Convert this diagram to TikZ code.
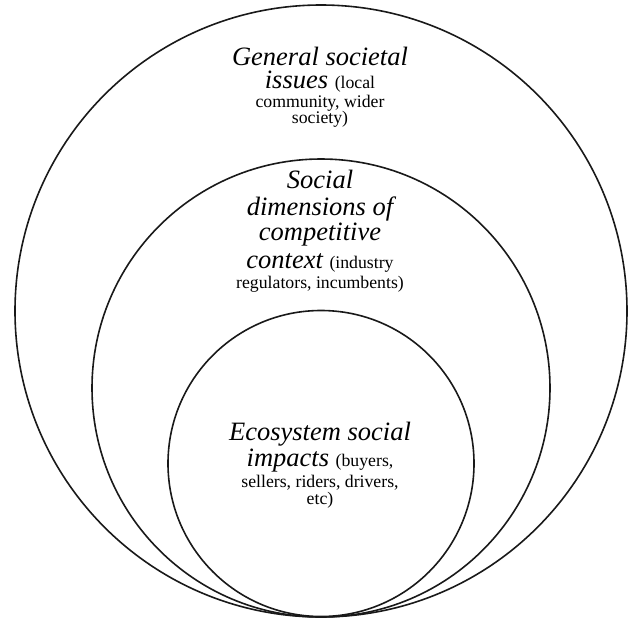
\documentclass[tikz,border=0pt]{standalone}
\usepackage{fontspec}
\setmainfont{Liberation Serif}
\newcommand{\bigit}{\fontsize{26.5}{26.5}\selectfont\itshape}
\newcommand{\smallrm}{\fontsize{17.75}{17.75}\selectfont\upshape}
\tikzset{
  ring/.style={draw=black!90,line width=1.6pt},
  lbl/.style={anchor=base,inner sep=0pt}
}
\begin{document}
\begin{tikzpicture}[x=1pt,y=-1pt]
            \useasboundingbox (0,0) rectangle (630,619);
            % three rings touching at the bottom
            \coordinate (outerc) at (321,311);
            \coordinate (midc) at (321,388);
            \coordinate (innerc) at (321,463.5);
            \draw[ring] (outerc) circle (306pt);
            \draw[ring] (midc) circle (229pt);
            \draw[ring] (innerc) circle (153pt);

            % outer ring
            \node[lbl] (gen1) at (320,65) {\bigit General societal};
            \node[lbl] (gen2) at (320,88) {\bigit issues \smallrm(local};
            \node[lbl] (gen3) at (320,107) {\smallrm community, wider};
            \node[lbl] (gen4) at (320,123) {\smallrm society)};

            % middle ring
            \node[lbl] (comp1) at (320,188) {\bigit Social};
            \node[lbl] (comp2) at (320,215) {\bigit dimensions of};
            \node[lbl] (comp3) at (320,240) {\bigit competitive};
            \node[lbl] (comp4) at (320,268) {\bigit context \smallrm(industry};
            \node[lbl] (comp5) at (320,288) {\smallrm regulators, incumbents)};

            % inner ring
            \node[lbl] (eco1) at (320,440) {\bigit Ecosystem social};
            \node[lbl] (eco2) at (320,466) {\bigit impacts \smallrm(buyers,};
            \node[lbl] (eco3) at (320,487) {\smallrm sellers, riders, drivers,};
            \node[lbl] (eco4) at (320,504) {\smallrm etc)};
\end{tikzpicture}
\end{document}
